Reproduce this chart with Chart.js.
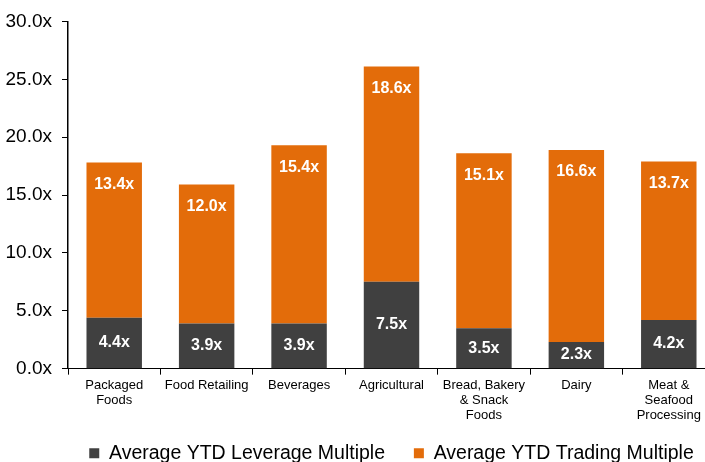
<!DOCTYPE html>
<html>
<head>
<meta charset="utf-8">
<script src="https://cdn.jsdelivr.net/npm/chart.js@4"></script>
<style>
  html, body { margin: 0; padding: 0; background: #fff; overflow: hidden; }
</style>
</head>
<body>
<canvas id="barChart" width="720" height="473"></canvas>
<script>
'use strict';

// categories (multi-line labels)
const categories = [
  ['Packaged', 'Foods'],
  'Food Retailing',
  'Beverages',
  'Agricultural',
  ['Bread, Bakery', '& Snack', 'Foods'],
  'Dairy',
  ['Meat &', 'Seafood', 'Processing']
];
const leverage_data = [4.4, 3.9, 3.9, 7.5, 3.5, 2.3, 4.2];
const trading_data = [13.4, 12.0, 15.4, 18.6, 15.1, 16.6, 13.7];
// trailing spaces widen the gap between the two legend entries
const series_names = ['Average YTD Leverage Multiple  ', 'Average YTD Trading Multiple'];
const y_ticks = [0, 5, 10, 15, 20, 25, 30];

const FONT = '"Liberation Sans", Arial, sans-serif';

// white labels on the bars
const barLabels = {
  id: 'barLabels',
  afterDatasetsDraw: function(chart) {
    const ctx = chart.ctx;
    ctx.save();
    ctx.font = 'bold 16px ' + FONT;
    ctx.fillStyle = '#ffffff';
    ctx.textAlign = 'center';
    ctx.textBaseline = 'middle';
    chart.data.datasets.forEach(function(ds, i) {
      chart.getDatasetMeta(i).data.forEach(function(bar, j) {
        let y;
        if (i === 0) {
          y = (bar.y + bar.base) / 2;
        } else {
          y = bar.y + 22;
        }
        ctx.fillText(ds.data[j].toFixed(1) + 'x', bar.x, y);
      });
    });
    ctx.restore();
  }
};

let context = document.querySelector('#barChart').getContext('2d');
new Chart(context, {
  type: 'bar',
  data: {
    labels: categories,
    datasets: [{
      label: series_names[0],
      data: leverage_data,
      backgroundColor: '#404040',
      barPercentage: 0.6,
      categoryPercentage: 1
    }, {
      label: series_names[1],
      data: trading_data,
      backgroundColor: '#E36C0A',
      barPercentage: 0.6,
      categoryPercentage: 1
    }]
  },
  options: {
    responsive: false,
    animation: false,
    layout: {
      padding: { top: 21, right: 5, left: 0, bottom: 0 }
    },
    plugins: {
      legend: {
        position: 'bottom',
        fullSize: false,
        labels: {
          boxWidth: 10,
          boxHeight: 10,
          padding: 18,
          color: '#000',
          font: { family: FONT, size: 19.5 }
        }
      },
      tooltip: { enabled: false }
    },
    scales: {
      x: {
        stacked: true,
        grid: {
          drawOnChartArea: false,
          drawTicks: true,
          tickLength: 6,
          color: '#000'
        },
        border: { color: '#000', width: 1 },
        ticks: {
          color: '#000',
          padding: 3,
          maxRotation: 0,
          autoSkip: false,
          font: { family: FONT, size: 13, lineHeight: 1.15 }
        }
      },
      y: {
        stacked: true,
        min: 0,
        max: 30,
        afterBuildTicks: function(scale) {
          scale.ticks = y_ticks.map(function(v) { return { value: v }; });
        },
        afterFit: function(scale) {
          scale.width = 68;
        },
        grid: {
          drawOnChartArea: false,
          drawTicks: true,
          tickLength: 6,
          color: '#000'
        },
        border: { color: '#000', width: 1.5 },
        ticks: {
          color: '#000',
          padding: 10,
          font: { family: FONT, size: 19 },
          callback: function(v) { return v.toFixed(1) + 'x'; }
        }
      }
    }
  },
  plugins: [barLabels]
});
</script>
</body>
</html>
